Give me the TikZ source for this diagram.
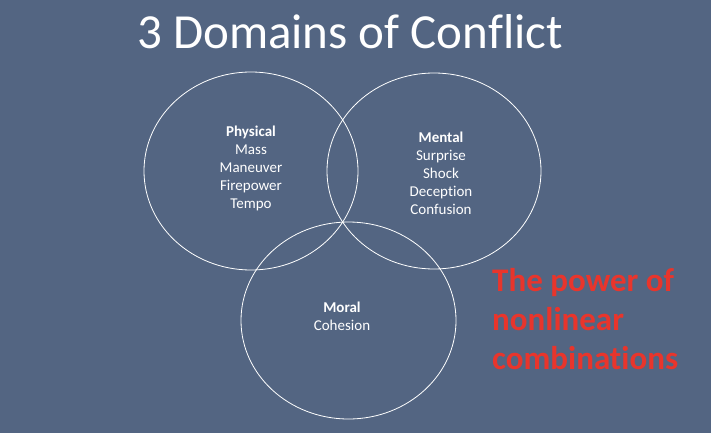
\documentclass[tikz,border=0pt]{standalone}
\usepackage{fontspec}
\setmainfont{Carlito}[Ligatures=NoCommon]
\definecolor{slate}{HTML}{536582}
\definecolor{powerred}{HTML}{E8352C}

\begin{document}
\begin{tikzpicture}[x=1pt,y=-1pt,
    domaincircle/.style={draw=white, line width=.8pt},
    domaintext/.style={text=white, align=center, inner sep=0pt, font=\fontsize{15}{18}\selectfont}]
  \fill[slate] (0,0) rectangle (711,433);
  \useasboundingbox (0,0) rectangle (711,433);

  \coordinate [] (P) at (251,171);
  \coordinate [] (M) at (434,171);
  \coordinate [] (R) at (348.5,320.5);

  \draw[domaincircle] (P) ellipse[x radius=107, y radius=99];
  \draw[domaincircle] (M) ellipse[x radius=107, y radius=98];
  \draw[domaincircle] (R) ellipse[x radius=107.5, y radius=98.5];

  \node[text=white, inner sep=0pt, anchor=base, font=\fontsize{49}{49}\selectfont] (title) at (350,49) {3 Domains of Conflict};

  \node[domaintext] (physical) at (251,168) {\textbf{Physical}\\Mass\\Maneuver\\Firepower\\Tempo};
  \node[domaintext] (mental) at (441,173) {\textbf{Mental}\\Surprise\\Shock\\Deception\\Confusion};
  \node[domaintext] (moral) at (342,316) {\textbf{Moral}\\Cohesion};

  \node[text=powerred, align=left, inner sep=0pt, anchor=west, font=\bfseries\fontsize{33}{39}\selectfont] (power) at (492,319) {The power of\\nonlinear\\combinations};
\end{tikzpicture}
\end{document}
